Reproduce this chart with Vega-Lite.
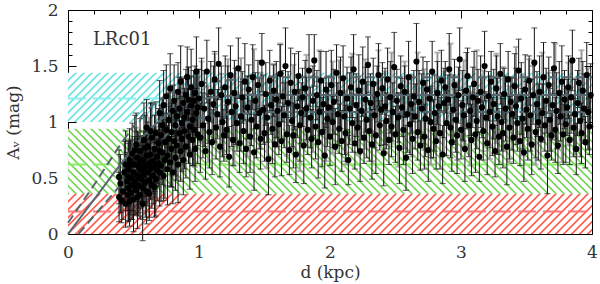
{
"$schema":"https://vega.github.io/schema/vega-lite/v6.json",
"width":524,"height":224,
"autosize":{"type":"none"},
"padding":{"left":68,"top":10,"right":8,"bottom":50},
"background":"white",
"config":{"view":{"stroke":null},"axis":{"labelFont":"DejaVu Serif","labelFontSize":17,"labelColor":"#333","titleFont":"DejaVu Serif","titleFontSize":17,"titleFontWeight":"normal","titleColor":"#333","tickColor":"black","tickWidth":1,"domainColor":"black","domainWidth":1,"grid":false,"zindex":1,"labelFlush":false,"labelOverlap":false}},
"datasets":{
"pts":[
{"d":0.39,"a":0.51,"e":0.24},{"d":0.39,"a":0.33,"e":0.22},{"d":0.40,"a":0.45,"e":0.26},{"d":0.41,"a":0.30,"e":0.2},{"d":0.42,"a":0.38,"e":0.25},{"d":0.43,"a":0.55,"e":0.28},{"d":0.44,"a":0.27,"e":0.21},{"d":0.45,"a":0.47,"e":0.26},{"d":0.44,"a":0.62,"e":0.3},{"d":0.46,"a":0.35,"e":0.23},
{"d":0.46,"a":0.58,"e":0.25},{"d":0.46,"a":0.41,"e":0.3},{"d":0.47,"a":0.29,"e":0.22},{"d":0.47,"a":0.66,"e":0.28},{"d":0.48,"a":0.50,"e":0.33},{"d":0.48,"a":0.37,"e":0.24},{"d":0.49,"a":0.72,"e":0.27},{"d":0.49,"a":0.44,"e":0.31},{"d":0.50,"a":0.55,"e":0.21},{"d":0.50,"a":0.31,"e":0.29},
{"d":0.51,"a":0.62,"e":0.25},{"d":0.51,"a":0.47,"e":0.3},{"d":0.52,"a":0.39,"e":0.22},{"d":0.52,"a":0.80,"e":0.28},{"d":0.53,"a":0.52,"e":0.33},{"d":0.53,"a":0.68,"e":0.24},{"d":0.54,"a":0.43,"e":0.27},{"d":0.54,"a":0.60,"e":0.31},{"d":0.55,"a":0.35,"e":0.21},{"d":0.55,"a":0.74,"e":0.29},
{"d":0.56,"a":0.49,"e":0.25},{"d":0.56,"a":0.57,"e":0.3},{"d":0.57,"a":0.66,"e":0.22},{"d":0.57,"a":0.41,"e":0.28},{"d":0.58,"a":0.84,"e":0.33},{"d":0.58,"a":0.53,"e":0.24},{"d":0.59,"a":0.61,"e":0.27},{"d":0.59,"a":0.46,"e":0.31},{"d":0.60,"a":0.70,"e":0.21},{"d":0.60,"a":0.38,"e":0.29},
{"d":0.60,"a":0.95,"e":0.25},{"d":0.61,"a":0.55,"e":0.3},{"d":0.61,"a":0.78,"e":0.22},{"d":0.62,"a":0.63,"e":0.28},{"d":0.62,"a":0.48,"e":0.33},{"d":0.63,"a":0.71,"e":0.24},{"d":0.63,"a":0.58,"e":0.27},{"d":0.64,"a":0.86,"e":0.31},{"d":0.64,"a":0.44,"e":0.21},{"d":0.65,"a":0.65,"e":0.29},
{"d":0.65,"a":0.52,"e":0.25},{"d":0.66,"a":0.76,"e":0.3},{"d":0.66,"a":0.60,"e":0.22},{"d":0.67,"a":0.90,"e":0.28},{"d":0.67,"a":0.49,"e":0.33},{"d":0.68,"a":0.69,"e":0.24},{"d":0.68,"a":0.57,"e":0.27},{"d":0.69,"a":0.81,"e":0.31},{"d":0.69,"a":0.63,"e":0.21},{"d":0.70,"a":1.08,"e":0.29},
{"d":0.70,"a":0.74,"e":0.25},{"d":0.70,"a":0.55,"e":0.3},{"d":0.48,"a":0.62,"e":0.22},{"d":0.53,"a":0.33,"e":0.28},{"d":0.57,"a":0.27,"e":0.33},{"d":0.62,"a":0.36,"e":0.24},{"d":0.66,"a":0.42,"e":0.27},{"d":0.51,"a":0.75,"e":0.31},{"d":0.55,"a":0.64,"e":0.21},{"d":0.59,"a":0.77,"e":0.29},
{"d":0.63,"a":0.92,"e":0.25},{"d":0.46,"a":0.51,"e":0.3},{"d":0.50,"a":0.43,"e":0.22},{"d":0.54,"a":0.51,"e":0.28},{"d":0.58,"a":0.59,"e":0.33},
{"d":0.71,"a":0.88,"e":0.27},{"d":0.71,"a":0.61,"e":0.32},{"d":0.72,"a":0.97,"e":0.24},{"d":0.72,"a":0.73,"e":0.29},{"d":0.73,"a":0.52,"e":0.22},{"d":0.73,"a":1.15,"e":0.31},{"d":0.74,"a":0.82,"e":0.26},{"d":0.74,"a":0.66,"e":0.34},{"d":0.75,"a":0.93,"e":0.23},{"d":0.75,"a":1.23,"e":0.28},
{"d":0.76,"a":0.70,"e":0.27},{"d":0.76,"a":0.58,"e":0.32},{"d":0.77,"a":1.02,"e":0.24},{"d":0.77,"a":0.85,"e":0.29},{"d":0.78,"a":0.64,"e":0.22},{"d":0.78,"a":1.30,"e":0.31},{"d":0.79,"a":0.91,"e":0.26},{"d":0.79,"a":0.76,"e":0.34},{"d":0.80,"a":1.10,"e":0.23},{"d":0.80,"a":0.55,"e":0.28},
{"d":0.81,"a":0.83,"e":0.27},{"d":0.81,"a":1.19,"e":0.32},{"d":0.82,"a":0.97,"e":0.24},{"d":0.82,"a":0.68,"e":0.29},{"d":0.83,"a":1.05,"e":0.22},{"d":0.83,"a":0.79,"e":0.31},{"d":0.84,"a":1.27,"e":0.26},{"d":0.84,"a":0.62,"e":0.34},{"d":0.85,"a":0.90,"e":0.23},{"d":0.85,"a":1.12,"e":0.28},
{"d":0.86,"a":0.74,"e":0.27},{"d":0.86,"a":1.36,"e":0.32},{"d":0.87,"a":0.99,"e":0.24},{"d":0.87,"a":0.85,"e":0.29},{"d":0.88,"a":1.17,"e":0.22},{"d":0.88,"a":0.66,"e":0.31},{"d":0.89,"a":1.04,"e":0.26},{"d":0.89,"a":0.92,"e":0.34},{"d":0.90,"a":1.24,"e":0.23},{"d":0.90,"a":0.78,"e":0.28},
{"d":0.91,"a":1.40,"e":0.27},{"d":0.91,"a":1.09,"e":0.32},{"d":0.92,"a":0.87,"e":0.24},{"d":0.92,"a":1.20,"e":0.29},{"d":0.93,"a":0.96,"e":0.22},{"d":0.93,"a":0.71,"e":0.31},{"d":0.94,"a":1.15,"e":0.26},{"d":0.94,"a":1.31,"e":0.34},{"d":0.95,"a":0.84,"e":0.23},{"d":0.95,"a":1.02,"e":0.28},
{"d":0.96,"a":1.19,"e":0.27},{"d":0.96,"a":0.93,"e":0.32},{"d":0.97,"a":1.26,"e":0.24},{"d":0.97,"a":0.76,"e":0.29},{"d":0.98,"a":1.08,"e":0.22},{"d":0.98,"a":1.45,"e":0.31},{"d":0.99,"a":0.89,"e":0.26},{"d":0.99,"a":1.13,"e":0.34},
{"d":1.00,"a":1.21,"e":0.26},{"d":1.01,"a":0.86,"e":0.31},{"d":1.02,"a":1.34,"e":0.23},{"d":1.03,"a":0.97,"e":0.29},{"d":1.04,"a":1.12,"e":0.34},{"d":1.05,"a":0.74,"e":0.25},{"d":1.06,"a":1.45,"e":0.28},{"d":1.07,"a":1.03,"e":0.22},{"d":1.08,"a":0.91,"e":0.32},{"d":1.09,"a":1.27,"e":0.27},
{"d":1.10,"a":0.82,"e":0.29},{"d":1.11,"a":1.16,"e":0.34},{"d":1.12,"a":1.38,"e":0.25},{"d":1.13,"a":0.95,"e":0.28},{"d":1.14,"a":1.07,"e":0.22},{"d":1.15,"a":1.52,"e":0.32},{"d":1.16,"a":0.78,"e":0.27},{"d":1.17,"a":1.24,"e":0.26},{"d":1.18,"a":1.00,"e":0.31},{"d":1.19,"a":0.88,"e":0.23},
{"d":1.20,"a":1.31,"e":0.28},{"d":1.21,"a":0.93,"e":0.22},{"d":1.22,"a":1.18,"e":0.32},{"d":1.23,"a":0.69,"e":0.27},{"d":1.24,"a":1.42,"e":0.26},{"d":1.25,"a":1.09,"e":0.31},{"d":1.26,"a":0.84,"e":0.23},{"d":1.27,"a":1.26,"e":0.29},{"d":1.28,"a":1.14,"e":0.34},{"d":1.29,"a":0.99,"e":0.25},
{"d":1.30,"a":1.48,"e":0.27},{"d":1.31,"a":0.81,"e":0.26},{"d":1.32,"a":1.05,"e":0.31},{"d":1.33,"a":1.22,"e":0.23},{"d":1.34,"a":0.92,"e":0.29},{"d":1.35,"a":1.36,"e":0.34},{"d":1.36,"a":0.76,"e":0.25},{"d":1.37,"a":1.13,"e":0.28},{"d":1.38,"a":1.29,"e":0.22},{"d":1.39,"a":0.87,"e":0.32},
{"d":1.40,"a":1.02,"e":0.23},{"d":1.41,"a":1.40,"e":0.29},{"d":1.42,"a":0.73,"e":0.34},{"d":1.43,"a":1.19,"e":0.25},{"d":1.44,"a":0.96,"e":0.28},{"d":1.45,"a":1.33,"e":0.22},{"d":1.46,"a":1.08,"e":0.32},{"d":1.47,"a":0.85,"e":0.27},{"d":1.48,"a":1.53,"e":0.26},{"d":1.49,"a":1.11,"e":0.31},
{"d":1.50,"a":0.90,"e":0.25},{"d":1.51,"a":1.25,"e":0.28},{"d":1.52,"a":1.04,"e":0.22},{"d":1.53,"a":0.67,"e":0.32},{"d":1.54,"a":1.37,"e":0.27},{"d":1.55,"a":1.15,"e":0.26},{"d":1.56,"a":0.94,"e":0.31},{"d":1.57,"a":1.28,"e":0.23},{"d":1.58,"a":0.80,"e":0.29},{"d":1.59,"a":1.20,"e":0.34},
{"d":1.60,"a":1.10,"e":0.32},{"d":1.61,"a":0.98,"e":0.27},{"d":1.62,"a":1.43,"e":0.26},{"d":1.63,"a":0.83,"e":0.31},{"d":1.64,"a":1.23,"e":0.23},{"d":1.65,"a":1.06,"e":0.29},{"d":1.66,"a":1.50,"e":0.34},{"d":1.67,"a":0.89,"e":0.25},{"d":1.68,"a":1.17,"e":0.28},{"d":1.69,"a":0.75,"e":0.22},
{"d":1.70,"a":1.35,"e":0.31},{"d":1.71,"a":1.01,"e":0.23},{"d":1.72,"a":0.88,"e":0.29},{"d":1.73,"a":1.27,"e":0.34},{"d":1.74,"a":0.71,"e":0.25},{"d":1.75,"a":1.14,"e":0.28},{"d":1.76,"a":1.41,"e":0.22},{"d":1.77,"a":0.97,"e":0.32},{"d":1.78,"a":1.08,"e":0.27},{"d":1.79,"a":1.22,"e":0.26},
{"d":1.80,"a":0.79,"e":0.34},{"d":1.81,"a":1.30,"e":0.25},{"d":1.82,"a":1.12,"e":0.28},{"d":1.83,"a":0.93,"e":0.22},{"d":1.84,"a":1.46,"e":0.32},{"d":1.85,"a":1.04,"e":0.27},{"d":1.86,"a":0.85,"e":0.26},{"d":1.87,"a":1.19,"e":0.31},{"d":1.88,"a":1.55,"e":0.23},{"d":1.89,"a":0.96,"e":0.29},
{"d":1.90,"a":1.24,"e":0.22},{"d":1.91,"a":0.82,"e":0.32},{"d":1.92,"a":1.09,"e":0.27},{"d":1.93,"a":1.37,"e":0.26},{"d":1.94,"a":0.91,"e":0.31},{"d":1.95,"a":1.16,"e":0.23},{"d":1.96,"a":0.70,"e":0.29},{"d":1.97,"a":1.29,"e":0.34},{"d":1.98,"a":1.03,"e":0.25},{"d":1.99,"a":1.13,"e":0.28},
{"d":2.00,"a":0.87,"e":0.26},{"d":2.01,"a":1.33,"e":0.31},{"d":2.02,"a":1.00,"e":0.23},{"d":2.03,"a":1.18,"e":0.29},{"d":2.04,"a":0.78,"e":0.34},{"d":2.05,"a":1.44,"e":0.25},{"d":2.06,"a":1.07,"e":0.28},{"d":2.07,"a":0.94,"e":0.22},{"d":2.08,"a":1.26,"e":0.32},{"d":2.09,"a":0.83,"e":0.27},
{"d":2.10,"a":1.39,"e":0.29},{"d":2.11,"a":1.05,"e":0.34},{"d":2.12,"a":0.90,"e":0.25},{"d":2.13,"a":1.21,"e":0.28},{"d":2.14,"a":0.66,"e":0.22},{"d":2.15,"a":1.12,"e":0.32},{"d":2.16,"a":1.31,"e":0.27},{"d":2.17,"a":0.99,"e":0.26},{"d":2.18,"a":1.47,"e":0.31},{"d":2.19,"a":0.81,"e":0.23},
{"d":2.20,"a":1.15,"e":0.28},{"d":2.21,"a":0.95,"e":0.22},{"d":2.22,"a":1.28,"e":0.32},{"d":2.23,"a":0.74,"e":0.27},{"d":2.24,"a":1.10,"e":0.26},{"d":2.25,"a":1.36,"e":0.31},{"d":2.26,"a":0.86,"e":0.23},{"d":2.27,"a":1.20,"e":0.29},{"d":2.28,"a":1.02,"e":0.34},{"d":2.29,"a":1.51,"e":0.25},
{"d":2.30,"a":0.92,"e":0.27},{"d":2.31,"a":1.17,"e":0.26},{"d":2.32,"a":0.80,"e":0.31},{"d":2.33,"a":1.34,"e":0.23},{"d":2.34,"a":1.06,"e":0.29},{"d":2.35,"a":0.88,"e":0.34},{"d":2.36,"a":1.25,"e":0.25},{"d":2.37,"a":1.42,"e":0.28},{"d":2.38,"a":0.97,"e":0.22},{"d":2.39,"a":1.11,"e":0.32},
{"d":2.40,"a":1.30,"e":0.23},{"d":2.41,"a":0.72,"e":0.29},{"d":2.42,"a":1.14,"e":0.34},{"d":2.43,"a":1.01,"e":0.25},{"d":2.44,"a":1.38,"e":0.28},{"d":2.45,"a":0.84,"e":0.22},{"d":2.46,"a":1.22,"e":0.32},{"d":2.47,"a":0.96,"e":0.27},{"d":2.48,"a":1.09,"e":0.26},{"d":2.49,"a":1.49,"e":0.31},
{"d":2.50,"a":0.89,"e":0.25},{"d":2.51,"a":1.19,"e":0.28},{"d":2.52,"a":1.04,"e":0.22},{"d":2.53,"a":0.77,"e":0.32},{"d":2.54,"a":1.32,"e":0.27},{"d":2.55,"a":1.13,"e":0.26},{"d":2.56,"a":0.93,"e":0.31},{"d":2.57,"a":1.27,"e":0.23},{"d":2.58,"a":0.68,"e":0.29},{"d":2.59,"a":1.07,"e":0.34},
{"d":2.60,"a":1.40,"e":0.32},{"d":2.61,"a":0.98,"e":0.27},{"d":2.62,"a":1.16,"e":0.26},{"d":2.63,"a":0.85,"e":0.31},{"d":2.64,"a":1.23,"e":0.23},{"d":2.65,"a":1.05,"e":0.29},{"d":2.66,"a":1.54,"e":0.34},{"d":2.67,"a":0.91,"e":0.25},{"d":2.68,"a":1.18,"e":0.28},{"d":2.69,"a":0.79,"e":0.22},
{"d":2.70,"a":1.12,"e":0.31},{"d":2.71,"a":1.35,"e":0.23},{"d":2.72,"a":0.87,"e":0.29},{"d":2.73,"a":1.03,"e":0.34},{"d":2.74,"a":1.29,"e":0.25},{"d":2.75,"a":0.75,"e":0.28},{"d":2.76,"a":1.21,"e":0.22},{"d":2.77,"a":1.00,"e":0.32},{"d":2.78,"a":1.45,"e":0.27},{"d":2.79,"a":0.94,"e":0.26},
{"d":2.80,"a":1.08,"e":0.34},{"d":2.81,"a":0.83,"e":0.25},{"d":2.82,"a":1.26,"e":0.28},{"d":2.83,"a":1.14,"e":0.22},{"d":2.84,"a":0.90,"e":0.32},{"d":2.85,"a":1.37,"e":0.27},{"d":2.86,"a":0.71,"e":0.26},{"d":2.87,"a":1.17,"e":0.31},{"d":2.88,"a":1.31,"e":0.23},{"d":2.89,"a":0.99,"e":0.29},
{"d":2.90,"a":1.20,"e":0.22},{"d":2.91,"a":1.47,"e":0.32},{"d":2.92,"a":0.95,"e":0.27},{"d":2.93,"a":0.82,"e":0.26},{"d":2.94,"a":1.11,"e":0.31},{"d":2.95,"a":1.33,"e":0.23},{"d":2.96,"a":1.02,"e":0.29},{"d":2.97,"a":0.88,"e":0.34},{"d":2.98,"a":1.24,"e":0.25},{"d":2.99,"a":1.56,"e":0.28},
{"d":3.00,"a":0.93,"e":0.26},{"d":3.01,"a":1.15,"e":0.31},{"d":3.02,"a":1.06,"e":0.23},{"d":3.03,"a":0.76,"e":0.29},{"d":3.04,"a":1.28,"e":0.34},{"d":3.05,"a":1.41,"e":0.25},{"d":3.06,"a":0.97,"e":0.28},{"d":3.07,"a":1.10,"e":0.22},{"d":3.08,"a":0.84,"e":0.32},{"d":3.09,"a":1.22,"e":0.27},
{"d":3.10,"a":1.34,"e":0.29},{"d":3.11,"a":0.89,"e":0.34},{"d":3.12,"a":1.01,"e":0.25},{"d":3.13,"a":1.19,"e":0.28},{"d":3.14,"a":0.69,"e":0.22},{"d":3.15,"a":1.27,"e":0.32},{"d":3.16,"a":1.13,"e":0.27},{"d":3.17,"a":0.92,"e":0.26},{"d":3.18,"a":1.50,"e":0.31},{"d":3.19,"a":1.04,"e":0.23},
{"d":3.20,"a":0.81,"e":0.28},{"d":3.21,"a":1.23,"e":0.22},{"d":3.22,"a":1.09,"e":0.32},{"d":3.23,"a":1.36,"e":0.27},{"d":3.24,"a":0.96,"e":0.26},{"d":3.25,"a":1.16,"e":0.31},{"d":3.26,"a":0.74,"e":0.23},{"d":3.27,"a":1.30,"e":0.29},{"d":3.28,"a":1.05,"e":0.34},{"d":3.29,"a":0.87,"e":0.25},
{"d":3.30,"a":1.43,"e":0.27},{"d":3.31,"a":1.00,"e":0.26},{"d":3.32,"a":0.90,"e":0.31},{"d":3.33,"a":1.25,"e":0.23},{"d":3.34,"a":1.12,"e":0.29},{"d":3.35,"a":0.78,"e":0.34},{"d":3.36,"a":1.38,"e":0.25},{"d":3.37,"a":0.95,"e":0.28},{"d":3.38,"a":1.18,"e":0.22},{"d":3.39,"a":1.07,"e":0.32},
{"d":3.40,"a":0.86,"e":0.23},{"d":3.41,"a":1.32,"e":0.29},{"d":3.42,"a":1.14,"e":0.34},{"d":3.43,"a":0.99,"e":0.25},{"d":3.44,"a":1.46,"e":0.28},{"d":3.45,"a":0.83,"e":0.22},{"d":3.46,"a":1.21,"e":0.32},{"d":3.47,"a":1.03,"e":0.27},{"d":3.48,"a":0.73,"e":0.26},{"d":3.49,"a":1.29,"e":0.31},
{"d":3.50,"a":1.11,"e":0.25},{"d":3.51,"a":0.94,"e":0.28},{"d":3.52,"a":1.37,"e":0.22},{"d":3.53,"a":1.06,"e":0.32},{"d":3.54,"a":0.80,"e":0.27},{"d":3.55,"a":1.24,"e":0.26},{"d":3.56,"a":1.53,"e":0.31},{"d":3.57,"a":0.91,"e":0.23},{"d":3.58,"a":1.16,"e":0.29},{"d":3.59,"a":1.00,"e":0.34},
{"d":3.60,"a":1.27,"e":0.32},{"d":3.61,"a":0.85,"e":0.27},{"d":3.62,"a":1.08,"e":0.26},{"d":3.63,"a":1.40,"e":0.31},{"d":3.64,"a":0.97,"e":0.23},{"d":3.65,"a":1.19,"e":0.29},{"d":3.66,"a":0.70,"e":0.34},{"d":3.67,"a":1.33,"e":0.25},{"d":3.68,"a":1.02,"e":0.28},{"d":3.69,"a":0.88,"e":0.22},
{"d":3.70,"a":1.15,"e":0.31},{"d":3.71,"a":1.48,"e":0.23},{"d":3.72,"a":0.93,"e":0.29},{"d":3.73,"a":1.10,"e":0.34},{"d":3.74,"a":0.79,"e":0.25},{"d":3.75,"a":1.26,"e":0.28},{"d":3.76,"a":1.05,"e":0.22},{"d":3.77,"a":1.36,"e":0.32},{"d":3.78,"a":0.89,"e":0.27},{"d":3.79,"a":1.20,"e":0.26},
{"d":3.80,"a":0.98,"e":0.34},{"d":3.81,"a":1.13,"e":0.25},{"d":3.82,"a":1.31,"e":0.28},{"d":3.83,"a":0.84,"e":0.22},{"d":3.84,"a":1.22,"e":0.32},{"d":3.85,"a":1.55,"e":0.27},{"d":3.86,"a":0.95,"e":0.26},{"d":3.87,"a":1.07,"e":0.31},{"d":3.88,"a":0.76,"e":0.23},{"d":3.89,"a":1.17,"e":0.29},
{"d":3.90,"a":1.35,"e":0.22},{"d":3.91,"a":1.01,"e":0.32},{"d":3.92,"a":0.90,"e":0.27},{"d":3.93,"a":1.28,"e":0.26},{"d":3.94,"a":1.12,"e":0.31},{"d":3.95,"a":0.82,"e":0.23},{"d":3.96,"a":1.42,"e":0.29},{"d":3.97,"a":1.09,"e":0.34},{"d":3.98,"a":0.96,"e":0.25},{"d":3.99,"a":1.24,"e":0.28}
],
"gray":[
{"d":0.47,"a":0.55,"e":0.30},{"d":0.52,"a":0.62,"e":0.33},{"d":0.57,"a":0.50,"e":0.31},{"d":0.62,"a":0.70,"e":0.34},{"d":0.67,"a":0.64,"e":0.32},{"d":0.72,"a":0.85,"e":0.36},{"d":0.77,"a":0.95,"e":0.33},{"d":0.82,"a":0.90,"e":0.38},{"d":0.87,"a":1.05,"e":0.35},{"d":0.92,"a":1.12,"e":0.37},
{"d":0.97,"a":1.00,"e":0.40},{"d":1.02,"a":1.18,"e":0.36},{"d":1.07,"a":0.98,"e":0.34},{"d":1.12,"a":1.22,"e":0.39},{"d":1.17,"a":1.08,"e":0.35},{"d":1.22,"a":1.15,"e":0.41},{"d":1.27,"a":0.94,"e":0.33},{"d":1.32,"a":1.20,"e":0.37},{"d":1.37,"a":1.05,"e":0.36},{"d":1.42,"a":1.25,"e":0.40},
{"d":1.47,"a":1.10,"e":0.34},{"d":1.52,"a":0.97,"e":0.38},{"d":1.57,"a":1.17,"e":0.35},{"d":1.62,"a":1.28,"e":0.42},{"d":1.67,"a":1.03,"e":0.33},{"d":1.72,"a":1.14,"e":0.37},{"d":1.77,"a":0.92,"e":0.36},{"d":1.82,"a":1.21,"e":0.39},{"d":1.87,"a":1.07,"e":0.34},{"d":1.92,"a":1.26,"e":0.38},
{"d":1.97,"a":1.00,"e":0.35},{"d":2.02,"a":1.13,"e":0.41},{"d":2.07,"a":1.19,"e":0.36},{"d":2.12,"a":0.95,"e":0.33},{"d":2.17,"a":1.23,"e":0.38},{"d":2.22,"a":1.06,"e":0.35},{"d":2.27,"a":1.16,"e":0.40},{"d":2.32,"a":0.99,"e":0.34},{"d":2.37,"a":1.27,"e":0.37},{"d":2.42,"a":1.09,"e":0.36},
{"d":2.47,"a":1.20,"e":0.42},{"d":2.52,"a":0.93,"e":0.33},{"d":2.57,"a":1.15,"e":0.39},{"d":2.62,"a":1.04,"e":0.35},{"d":2.67,"a":1.24,"e":0.38},{"d":2.72,"a":1.11,"e":0.36},{"d":2.77,"a":0.96,"e":0.34},{"d":2.82,"a":1.22,"e":0.40},{"d":2.87,"a":1.08,"e":0.37},{"d":2.92,"a":1.29,"e":0.41},
{"d":2.97,"a":1.01,"e":0.35},{"d":3.02,"a":1.17,"e":0.38},{"d":3.07,"a":0.94,"e":0.33},{"d":3.12,"a":1.25,"e":0.39},{"d":3.17,"a":1.10,"e":0.36},{"d":3.22,"a":1.02,"e":0.35},{"d":3.27,"a":1.21,"e":0.40},{"d":3.32,"a":1.12,"e":0.37},{"d":3.37,"a":0.98,"e":0.34},{"d":3.42,"a":1.26,"e":0.41},
{"d":3.47,"a":1.06,"e":0.36},{"d":3.52,"a":1.18,"e":0.38},{"d":3.57,"a":0.95,"e":0.33},{"d":3.62,"a":1.23,"e":0.39},{"d":3.67,"a":1.09,"e":0.35},{"d":3.72,"a":1.28,"e":0.42},{"d":3.77,"a":1.00,"e":0.36},{"d":3.82,"a":1.16,"e":0.37},{"d":3.87,"a":1.05,"e":0.34},{"d":3.92,"a":1.24,"e":0.40},
{"d":3.97,"a":1.12,"e":0.36}
],
"curves":[
{"d":0,"a":0,"c":"mid"},{"d":0.2,"a":0.31,"c":"mid"},{"d":0.4,"a":0.62,"c":"mid"},{"d":0.55,"a":0.84,"c":"mid"},{"d":0.65,"a":0.96,"c":"mid"},{"d":0.75,"a":1.06,"c":"mid"},{"d":0.85,"a":1.13,"c":"mid"},{"d":0.95,"a":1.18,"c":"mid"},{"d":1.05,"a":1.21,"c":"mid"},{"d":1.2,"a":1.23,"c":"mid"},{"d":1.4,"a":1.24,"c":"mid"},{"d":4,"a":1.24,"c":"mid"},
{"d":0,"a":0.10,"c":"hi"},{"d":0.2,"a":0.44,"c":"hi"},{"d":0.39,"a":0.78,"c":"hi"},{"d":0.5,"a":0.96,"c":"hi"},{"d":0.6,"a":1.10,"c":"hi"},{"d":0.7,"a":1.20,"c":"hi"},{"d":0.8,"a":1.27,"c":"hi"},{"d":0.9,"a":1.31,"c":"hi"},{"d":1.0,"a":1.34,"c":"hi"},{"d":1.2,"a":1.37,"c":"hi"},{"d":1.4,"a":1.39,"c":"hi"},{"d":1.7,"a":1.40,"c":"hi"},{"d":4,"a":1.40,"c":"hi"},
{"d":0.08,"a":0,"c":"lo"},{"d":0.3,"a":0.30,"c":"lo"},{"d":0.5,"a":0.57,"c":"lo"},{"d":0.65,"a":0.77,"c":"lo"},{"d":0.79,"a":0.92,"c":"lo"},{"d":0.9,"a":0.99,"c":"lo"},{"d":1.0,"a":1.03,"c":"lo"},{"d":1.16,"a":1.06,"c":"lo"},{"d":1.4,"a":1.08,"c":"lo"},{"d":1.7,"a":1.09,"c":"lo"},{"d":4,"a":1.09,"c":"lo"}
]
},
"layer":[
{"data":{"values":[{"d":0,"d2":4,"a":0,"a2":0.36}]},
 "mark":{"type":"rect","fill":{"gradient":"linear","x1":0,"y1":0,"x2":1.2142,"y2":0.0934,"stops":[
{"offset":0.0,"color":"#f32"},{"offset":0.003,"color":"#fff"},{"offset":0.0095,"color":"#fff"},{"offset":0.0125,"color":"#f32"},{"offset":0.0155,"color":"#fff"},{"offset":0.022,"color":"#fff"},{"offset":0.025,"color":"#f32"},{"offset":0.028,"color":"#fff"},{"offset":0.0345,"color":"#fff"},{"offset":0.0375,"color":"#f32"},{"offset":0.0405,"color":"#fff"},{"offset":0.047,"color":"#fff"},{"offset":0.05,"color":"#f32"},{"offset":0.053,"color":"#fff"},{"offset":0.0595,"color":"#fff"},{"offset":0.0625,"color":"#f32"},{"offset":0.0655,"color":"#fff"},{"offset":0.072,"color":"#fff"},{"offset":0.075,"color":"#f32"},{"offset":0.078,"color":"#fff"},{"offset":0.0845,"color":"#fff"},{"offset":0.0875,"color":"#f32"},{"offset":0.0905,"color":"#fff"},{"offset":0.097,"color":"#fff"},
{"offset":0.1,"color":"#f32"},{"offset":0.103,"color":"#fff"},{"offset":0.1095,"color":"#fff"},{"offset":0.1125,"color":"#f32"},{"offset":0.1155,"color":"#fff"},{"offset":0.122,"color":"#fff"},{"offset":0.125,"color":"#f32"},{"offset":0.128,"color":"#fff"},{"offset":0.1345,"color":"#fff"},{"offset":0.1375,"color":"#f32"},{"offset":0.1405,"color":"#fff"},{"offset":0.147,"color":"#fff"},{"offset":0.15,"color":"#f32"},{"offset":0.153,"color":"#fff"},{"offset":0.1595,"color":"#fff"},{"offset":0.1625,"color":"#f32"},{"offset":0.1655,"color":"#fff"},{"offset":0.172,"color":"#fff"},{"offset":0.175,"color":"#f32"},{"offset":0.178,"color":"#fff"},{"offset":0.1845,"color":"#fff"},{"offset":0.1875,"color":"#f32"},{"offset":0.1905,"color":"#fff"},{"offset":0.197,"color":"#fff"},
{"offset":0.2,"color":"#f32"},{"offset":0.203,"color":"#fff"},{"offset":0.2095,"color":"#fff"},{"offset":0.2125,"color":"#f32"},{"offset":0.2155,"color":"#fff"},{"offset":0.222,"color":"#fff"},{"offset":0.225,"color":"#f32"},{"offset":0.228,"color":"#fff"},{"offset":0.2345,"color":"#fff"},{"offset":0.2375,"color":"#f32"},{"offset":0.2405,"color":"#fff"},{"offset":0.247,"color":"#fff"},{"offset":0.25,"color":"#f32"},{"offset":0.253,"color":"#fff"},{"offset":0.2595,"color":"#fff"},{"offset":0.2625,"color":"#f32"},{"offset":0.2655,"color":"#fff"},{"offset":0.272,"color":"#fff"},{"offset":0.275,"color":"#f32"},{"offset":0.278,"color":"#fff"},{"offset":0.2845,"color":"#fff"},{"offset":0.2875,"color":"#f32"},{"offset":0.2905,"color":"#fff"},{"offset":0.297,"color":"#fff"},
{"offset":0.3,"color":"#f32"},{"offset":0.303,"color":"#fff"},{"offset":0.3095,"color":"#fff"},{"offset":0.3125,"color":"#f32"},{"offset":0.3155,"color":"#fff"},{"offset":0.322,"color":"#fff"},{"offset":0.325,"color":"#f32"},{"offset":0.328,"color":"#fff"},{"offset":0.3345,"color":"#fff"},{"offset":0.3375,"color":"#f32"},{"offset":0.3405,"color":"#fff"},{"offset":0.347,"color":"#fff"},{"offset":0.35,"color":"#f32"},{"offset":0.353,"color":"#fff"},{"offset":0.3595,"color":"#fff"},{"offset":0.3625,"color":"#f32"},{"offset":0.3655,"color":"#fff"},{"offset":0.372,"color":"#fff"},{"offset":0.375,"color":"#f32"},{"offset":0.378,"color":"#fff"},{"offset":0.3845,"color":"#fff"},{"offset":0.3875,"color":"#f32"},{"offset":0.3905,"color":"#fff"},{"offset":0.397,"color":"#fff"},
{"offset":0.4,"color":"#f32"},{"offset":0.403,"color":"#fff"},{"offset":0.4095,"color":"#fff"},{"offset":0.4125,"color":"#f32"},{"offset":0.4155,"color":"#fff"},{"offset":0.422,"color":"#fff"},{"offset":0.425,"color":"#f32"},{"offset":0.428,"color":"#fff"},{"offset":0.4345,"color":"#fff"},{"offset":0.4375,"color":"#f32"},{"offset":0.4405,"color":"#fff"},{"offset":0.447,"color":"#fff"},{"offset":0.45,"color":"#f32"},{"offset":0.453,"color":"#fff"},{"offset":0.4595,"color":"#fff"},{"offset":0.4625,"color":"#f32"},{"offset":0.4655,"color":"#fff"},{"offset":0.472,"color":"#fff"},{"offset":0.475,"color":"#f32"},{"offset":0.478,"color":"#fff"},{"offset":0.4845,"color":"#fff"},{"offset":0.4875,"color":"#f32"},{"offset":0.4905,"color":"#fff"},{"offset":0.497,"color":"#fff"},
{"offset":0.5,"color":"#f32"},{"offset":0.503,"color":"#fff"},{"offset":0.5095,"color":"#fff"},{"offset":0.5125,"color":"#f32"},{"offset":0.5155,"color":"#fff"},{"offset":0.522,"color":"#fff"},{"offset":0.525,"color":"#f32"},{"offset":0.528,"color":"#fff"},{"offset":0.5345,"color":"#fff"},{"offset":0.5375,"color":"#f32"},{"offset":0.5405,"color":"#fff"},{"offset":0.547,"color":"#fff"},{"offset":0.55,"color":"#f32"},{"offset":0.553,"color":"#fff"},{"offset":0.5595,"color":"#fff"},{"offset":0.5625,"color":"#f32"},{"offset":0.5655,"color":"#fff"},{"offset":0.572,"color":"#fff"},{"offset":0.575,"color":"#f32"},{"offset":0.578,"color":"#fff"},{"offset":0.5845,"color":"#fff"},{"offset":0.5875,"color":"#f32"},{"offset":0.5905,"color":"#fff"},{"offset":0.597,"color":"#fff"},
{"offset":0.6,"color":"#f32"},{"offset":0.603,"color":"#fff"},{"offset":0.6095,"color":"#fff"},{"offset":0.6125,"color":"#f32"},{"offset":0.6155,"color":"#fff"},{"offset":0.622,"color":"#fff"},{"offset":0.625,"color":"#f32"},{"offset":0.628,"color":"#fff"},{"offset":0.6345,"color":"#fff"},{"offset":0.6375,"color":"#f32"},{"offset":0.6405,"color":"#fff"},{"offset":0.647,"color":"#fff"},{"offset":0.65,"color":"#f32"},{"offset":0.653,"color":"#fff"},{"offset":0.6595,"color":"#fff"},{"offset":0.6625,"color":"#f32"},{"offset":0.6655,"color":"#fff"},{"offset":0.672,"color":"#fff"},{"offset":0.675,"color":"#f32"},{"offset":0.678,"color":"#fff"},{"offset":0.6845,"color":"#fff"},{"offset":0.6875,"color":"#f32"},{"offset":0.6905,"color":"#fff"},{"offset":0.697,"color":"#fff"},
{"offset":0.7,"color":"#f32"},{"offset":0.703,"color":"#fff"},{"offset":0.7095,"color":"#fff"},{"offset":0.7125,"color":"#f32"},{"offset":0.7155,"color":"#fff"},{"offset":0.722,"color":"#fff"},{"offset":0.725,"color":"#f32"},{"offset":0.728,"color":"#fff"},{"offset":0.7345,"color":"#fff"},{"offset":0.7375,"color":"#f32"},{"offset":0.7405,"color":"#fff"},{"offset":0.747,"color":"#fff"},{"offset":0.75,"color":"#f32"},{"offset":0.753,"color":"#fff"},{"offset":0.7595,"color":"#fff"},{"offset":0.7625,"color":"#f32"},{"offset":0.7655,"color":"#fff"},{"offset":0.772,"color":"#fff"},{"offset":0.775,"color":"#f32"},{"offset":0.778,"color":"#fff"},{"offset":0.7845,"color":"#fff"},{"offset":0.7875,"color":"#f32"},{"offset":0.7905,"color":"#fff"},{"offset":0.797,"color":"#fff"},
{"offset":0.8,"color":"#f32"},{"offset":0.803,"color":"#fff"},{"offset":0.8095,"color":"#fff"},{"offset":0.8125,"color":"#f32"},{"offset":0.8155,"color":"#fff"},{"offset":0.822,"color":"#fff"},{"offset":0.825,"color":"#f32"},{"offset":0.828,"color":"#fff"},{"offset":0.8345,"color":"#fff"},{"offset":0.8375,"color":"#f32"},{"offset":0.8405,"color":"#fff"},{"offset":0.847,"color":"#fff"},{"offset":0.85,"color":"#f32"},{"offset":0.853,"color":"#fff"},{"offset":0.8595,"color":"#fff"},{"offset":0.8625,"color":"#f32"},{"offset":0.8655,"color":"#fff"},{"offset":0.872,"color":"#fff"},{"offset":0.875,"color":"#f32"},{"offset":0.878,"color":"#fff"},{"offset":0.8845,"color":"#fff"},{"offset":0.8875,"color":"#f32"},{"offset":0.8905,"color":"#fff"},{"offset":0.897,"color":"#fff"},
{"offset":0.9,"color":"#f32"},{"offset":0.903,"color":"#fff"},{"offset":0.9095,"color":"#fff"},{"offset":0.9125,"color":"#f32"},{"offset":0.9155,"color":"#fff"},{"offset":0.922,"color":"#fff"},{"offset":0.925,"color":"#f32"},{"offset":0.928,"color":"#fff"},{"offset":1,"color":"#fff"}]}},
 "encoding":{
  "x":{"field":"d","type":"quantitative","scale":{"domain":[0,4],"nice":false},"axis":{"orient":"bottom","values":[0,1,2,3,4],"tickSize":-8,"labelPadding":18,"title":"d (kpc)","titlePadding":4,"domain":true}},
  "x2":{"field":"d2"},
  "y":{"field":"a","type":"quantitative","scale":{"domain":[0,2],"nice":false},"axis":{"orient":"left","values":[0,0.5,1,1.5,2],"format":"~g","tickSize":-8,"labelPadding":18,"title":"Aᵥ (mag)","titlePadding":8,"domain":true}},
  "y2":{"field":"a2"}}},
{"data":{"values":[{"d":0,"d2":4,"a":0.36,"a2":0.94}]},
 "mark":{"type":"rect","fill":{"gradient":"linear","x1":0,"y1":1,"x2":1.2029,"y2":0.8509,"stops":[
{"offset":0.0,"color":"#5c3"},{"offset":0.003,"color":"#fff"},{"offset":0.0095,"color":"#fff"},{"offset":0.0125,"color":"#5c3"},{"offset":0.0155,"color":"#fff"},{"offset":0.022,"color":"#fff"},{"offset":0.025,"color":"#5c3"},{"offset":0.028,"color":"#fff"},{"offset":0.0345,"color":"#fff"},{"offset":0.0375,"color":"#5c3"},{"offset":0.0405,"color":"#fff"},{"offset":0.047,"color":"#fff"},{"offset":0.05,"color":"#5c3"},{"offset":0.053,"color":"#fff"},{"offset":0.0595,"color":"#fff"},{"offset":0.0625,"color":"#5c3"},{"offset":0.0655,"color":"#fff"},{"offset":0.072,"color":"#fff"},{"offset":0.075,"color":"#5c3"},{"offset":0.078,"color":"#fff"},{"offset":0.0845,"color":"#fff"},{"offset":0.0875,"color":"#5c3"},{"offset":0.0905,"color":"#fff"},{"offset":0.097,"color":"#fff"},
{"offset":0.1,"color":"#5c3"},{"offset":0.103,"color":"#fff"},{"offset":0.1095,"color":"#fff"},{"offset":0.1125,"color":"#5c3"},{"offset":0.1155,"color":"#fff"},{"offset":0.122,"color":"#fff"},{"offset":0.125,"color":"#5c3"},{"offset":0.128,"color":"#fff"},{"offset":0.1345,"color":"#fff"},{"offset":0.1375,"color":"#5c3"},{"offset":0.1405,"color":"#fff"},{"offset":0.147,"color":"#fff"},{"offset":0.15,"color":"#5c3"},{"offset":0.153,"color":"#fff"},{"offset":0.1595,"color":"#fff"},{"offset":0.1625,"color":"#5c3"},{"offset":0.1655,"color":"#fff"},{"offset":0.172,"color":"#fff"},{"offset":0.175,"color":"#5c3"},{"offset":0.178,"color":"#fff"},{"offset":0.1845,"color":"#fff"},{"offset":0.1875,"color":"#5c3"},{"offset":0.1905,"color":"#fff"},{"offset":0.197,"color":"#fff"},
{"offset":0.2,"color":"#5c3"},{"offset":0.203,"color":"#fff"},{"offset":0.2095,"color":"#fff"},{"offset":0.2125,"color":"#5c3"},{"offset":0.2155,"color":"#fff"},{"offset":0.222,"color":"#fff"},{"offset":0.225,"color":"#5c3"},{"offset":0.228,"color":"#fff"},{"offset":0.2345,"color":"#fff"},{"offset":0.2375,"color":"#5c3"},{"offset":0.2405,"color":"#fff"},{"offset":0.247,"color":"#fff"},{"offset":0.25,"color":"#5c3"},{"offset":0.253,"color":"#fff"},{"offset":0.2595,"color":"#fff"},{"offset":0.2625,"color":"#5c3"},{"offset":0.2655,"color":"#fff"},{"offset":0.272,"color":"#fff"},{"offset":0.275,"color":"#5c3"},{"offset":0.278,"color":"#fff"},{"offset":0.2845,"color":"#fff"},{"offset":0.2875,"color":"#5c3"},{"offset":0.2905,"color":"#fff"},{"offset":0.297,"color":"#fff"},
{"offset":0.3,"color":"#5c3"},{"offset":0.303,"color":"#fff"},{"offset":0.3095,"color":"#fff"},{"offset":0.3125,"color":"#5c3"},{"offset":0.3155,"color":"#fff"},{"offset":0.322,"color":"#fff"},{"offset":0.325,"color":"#5c3"},{"offset":0.328,"color":"#fff"},{"offset":0.3345,"color":"#fff"},{"offset":0.3375,"color":"#5c3"},{"offset":0.3405,"color":"#fff"},{"offset":0.347,"color":"#fff"},{"offset":0.35,"color":"#5c3"},{"offset":0.353,"color":"#fff"},{"offset":0.3595,"color":"#fff"},{"offset":0.3625,"color":"#5c3"},{"offset":0.3655,"color":"#fff"},{"offset":0.372,"color":"#fff"},{"offset":0.375,"color":"#5c3"},{"offset":0.378,"color":"#fff"},{"offset":0.3845,"color":"#fff"},{"offset":0.3875,"color":"#5c3"},{"offset":0.3905,"color":"#fff"},{"offset":0.397,"color":"#fff"},
{"offset":0.4,"color":"#5c3"},{"offset":0.403,"color":"#fff"},{"offset":0.4095,"color":"#fff"},{"offset":0.4125,"color":"#5c3"},{"offset":0.4155,"color":"#fff"},{"offset":0.422,"color":"#fff"},{"offset":0.425,"color":"#5c3"},{"offset":0.428,"color":"#fff"},{"offset":0.4345,"color":"#fff"},{"offset":0.4375,"color":"#5c3"},{"offset":0.4405,"color":"#fff"},{"offset":0.447,"color":"#fff"},{"offset":0.45,"color":"#5c3"},{"offset":0.453,"color":"#fff"},{"offset":0.4595,"color":"#fff"},{"offset":0.4625,"color":"#5c3"},{"offset":0.4655,"color":"#fff"},{"offset":0.472,"color":"#fff"},{"offset":0.475,"color":"#5c3"},{"offset":0.478,"color":"#fff"},{"offset":0.4845,"color":"#fff"},{"offset":0.4875,"color":"#5c3"},{"offset":0.4905,"color":"#fff"},{"offset":0.497,"color":"#fff"},
{"offset":0.5,"color":"#5c3"},{"offset":0.503,"color":"#fff"},{"offset":0.5095,"color":"#fff"},{"offset":0.5125,"color":"#5c3"},{"offset":0.5155,"color":"#fff"},{"offset":0.522,"color":"#fff"},{"offset":0.525,"color":"#5c3"},{"offset":0.528,"color":"#fff"},{"offset":0.5345,"color":"#fff"},{"offset":0.5375,"color":"#5c3"},{"offset":0.5405,"color":"#fff"},{"offset":0.547,"color":"#fff"},{"offset":0.55,"color":"#5c3"},{"offset":0.553,"color":"#fff"},{"offset":0.5595,"color":"#fff"},{"offset":0.5625,"color":"#5c3"},{"offset":0.5655,"color":"#fff"},{"offset":0.572,"color":"#fff"},{"offset":0.575,"color":"#5c3"},{"offset":0.578,"color":"#fff"},{"offset":0.5845,"color":"#fff"},{"offset":0.5875,"color":"#5c3"},{"offset":0.5905,"color":"#fff"},{"offset":0.597,"color":"#fff"},
{"offset":0.6,"color":"#5c3"},{"offset":0.603,"color":"#fff"},{"offset":0.6095,"color":"#fff"},{"offset":0.6125,"color":"#5c3"},{"offset":0.6155,"color":"#fff"},{"offset":0.622,"color":"#fff"},{"offset":0.625,"color":"#5c3"},{"offset":0.628,"color":"#fff"},{"offset":0.6345,"color":"#fff"},{"offset":0.6375,"color":"#5c3"},{"offset":0.6405,"color":"#fff"},{"offset":0.647,"color":"#fff"},{"offset":0.65,"color":"#5c3"},{"offset":0.653,"color":"#fff"},{"offset":0.6595,"color":"#fff"},{"offset":0.6625,"color":"#5c3"},{"offset":0.6655,"color":"#fff"},{"offset":0.672,"color":"#fff"},{"offset":0.675,"color":"#5c3"},{"offset":0.678,"color":"#fff"},{"offset":0.6845,"color":"#fff"},{"offset":0.6875,"color":"#5c3"},{"offset":0.6905,"color":"#fff"},{"offset":0.697,"color":"#fff"},
{"offset":0.7,"color":"#5c3"},{"offset":0.703,"color":"#fff"},{"offset":0.7095,"color":"#fff"},{"offset":0.7125,"color":"#5c3"},{"offset":0.7155,"color":"#fff"},{"offset":0.722,"color":"#fff"},{"offset":0.725,"color":"#5c3"},{"offset":0.728,"color":"#fff"},{"offset":0.7345,"color":"#fff"},{"offset":0.7375,"color":"#5c3"},{"offset":0.7405,"color":"#fff"},{"offset":0.747,"color":"#fff"},{"offset":0.75,"color":"#5c3"},{"offset":0.753,"color":"#fff"},{"offset":0.7595,"color":"#fff"},{"offset":0.7625,"color":"#5c3"},{"offset":0.7655,"color":"#fff"},{"offset":0.772,"color":"#fff"},{"offset":0.775,"color":"#5c3"},{"offset":0.778,"color":"#fff"},{"offset":0.7845,"color":"#fff"},{"offset":0.7875,"color":"#5c3"},{"offset":0.7905,"color":"#fff"},{"offset":0.797,"color":"#fff"},
{"offset":0.8,"color":"#5c3"},{"offset":0.803,"color":"#fff"},{"offset":0.8095,"color":"#fff"},{"offset":0.8125,"color":"#5c3"},{"offset":0.8155,"color":"#fff"},{"offset":0.822,"color":"#fff"},{"offset":0.825,"color":"#5c3"},{"offset":0.828,"color":"#fff"},{"offset":0.8345,"color":"#fff"},{"offset":0.8375,"color":"#5c3"},{"offset":0.8405,"color":"#fff"},{"offset":0.847,"color":"#fff"},{"offset":0.85,"color":"#5c3"},{"offset":0.853,"color":"#fff"},{"offset":0.8595,"color":"#fff"},{"offset":0.8625,"color":"#5c3"},{"offset":0.8655,"color":"#fff"},{"offset":0.872,"color":"#fff"},{"offset":0.875,"color":"#5c3"},{"offset":0.878,"color":"#fff"},{"offset":0.8845,"color":"#fff"},{"offset":0.8875,"color":"#5c3"},{"offset":0.8905,"color":"#fff"},{"offset":0.897,"color":"#fff"},
{"offset":0.9,"color":"#5c3"},{"offset":0.903,"color":"#fff"},{"offset":0.9095,"color":"#fff"},{"offset":0.9125,"color":"#5c3"},{"offset":0.9155,"color":"#fff"},{"offset":0.922,"color":"#fff"},{"offset":0.925,"color":"#5c3"},{"offset":0.928,"color":"#fff"},{"offset":1,"color":"#fff"}]}},
 "encoding":{
  "x":{"field":"d","type":"quantitative","scale":{"domain":[0,4],"nice":false},"axis":{"orient":"bottom","values":[0.2,0.4,0.6,0.8,1.2,1.4,1.6,1.8,2.2,2.4,2.6,2.8,3.2,3.4,3.6,3.8],"tickSize":-4,"labels":false,"title":null,"domain":false}},
  "x2":{"field":"d2"},
  "y":{"field":"a","type":"quantitative","scale":{"domain":[0,2],"nice":false},"axis":{"orient":"left","values":[0.1,0.2,0.3,0.4,0.6,0.7,0.8,0.9,1.1,1.2,1.3,1.4,1.6,1.7,1.8,1.9],"tickSize":-4,"labels":false,"title":null,"domain":false}},
  "y2":{"field":"a2"}}},
{"data":{"values":[{"d":0,"d2":4,"a":1.0,"a2":1.44}]},
 "mark":{"type":"rect","fill":{"gradient":"linear","x1":0,"y1":0,"x2":1.2107,"y2":0.1139,"stops":[
{"offset":0.0,"color":"#4dd"},{"offset":0.003,"color":"#fff"},{"offset":0.0095,"color":"#fff"},{"offset":0.0125,"color":"#4dd"},{"offset":0.0155,"color":"#fff"},{"offset":0.022,"color":"#fff"},{"offset":0.025,"color":"#4dd"},{"offset":0.028,"color":"#fff"},{"offset":0.0345,"color":"#fff"},{"offset":0.0375,"color":"#4dd"},{"offset":0.0405,"color":"#fff"},{"offset":0.047,"color":"#fff"},{"offset":0.05,"color":"#4dd"},{"offset":0.053,"color":"#fff"},{"offset":0.0595,"color":"#fff"},{"offset":0.0625,"color":"#4dd"},{"offset":0.0655,"color":"#fff"},{"offset":0.072,"color":"#fff"},{"offset":0.075,"color":"#4dd"},{"offset":0.078,"color":"#fff"},{"offset":0.0845,"color":"#fff"},{"offset":0.0875,"color":"#4dd"},{"offset":0.0905,"color":"#fff"},{"offset":0.097,"color":"#fff"},
{"offset":0.1,"color":"#4dd"},{"offset":0.103,"color":"#fff"},{"offset":0.1095,"color":"#fff"},{"offset":0.1125,"color":"#4dd"},{"offset":0.1155,"color":"#fff"},{"offset":0.122,"color":"#fff"},{"offset":0.125,"color":"#4dd"},{"offset":0.128,"color":"#fff"},{"offset":0.1345,"color":"#fff"},{"offset":0.1375,"color":"#4dd"},{"offset":0.1405,"color":"#fff"},{"offset":0.147,"color":"#fff"},{"offset":0.15,"color":"#4dd"},{"offset":0.153,"color":"#fff"},{"offset":0.1595,"color":"#fff"},{"offset":0.1625,"color":"#4dd"},{"offset":0.1655,"color":"#fff"},{"offset":0.172,"color":"#fff"},{"offset":0.175,"color":"#4dd"},{"offset":0.178,"color":"#fff"},{"offset":0.1845,"color":"#fff"},{"offset":0.1875,"color":"#4dd"},{"offset":0.1905,"color":"#fff"},{"offset":0.197,"color":"#fff"},
{"offset":0.2,"color":"#4dd"},{"offset":0.203,"color":"#fff"},{"offset":0.2095,"color":"#fff"},{"offset":0.2125,"color":"#4dd"},{"offset":0.2155,"color":"#fff"},{"offset":0.222,"color":"#fff"},{"offset":0.225,"color":"#4dd"},{"offset":0.228,"color":"#fff"},{"offset":0.2345,"color":"#fff"},{"offset":0.2375,"color":"#4dd"},{"offset":0.2405,"color":"#fff"},{"offset":0.247,"color":"#fff"},{"offset":0.25,"color":"#4dd"},{"offset":0.253,"color":"#fff"},{"offset":0.2595,"color":"#fff"},{"offset":0.2625,"color":"#4dd"},{"offset":0.2655,"color":"#fff"},{"offset":0.272,"color":"#fff"},{"offset":0.275,"color":"#4dd"},{"offset":0.278,"color":"#fff"},{"offset":0.2845,"color":"#fff"},{"offset":0.2875,"color":"#4dd"},{"offset":0.2905,"color":"#fff"},{"offset":0.297,"color":"#fff"},
{"offset":0.3,"color":"#4dd"},{"offset":0.303,"color":"#fff"},{"offset":0.3095,"color":"#fff"},{"offset":0.3125,"color":"#4dd"},{"offset":0.3155,"color":"#fff"},{"offset":0.322,"color":"#fff"},{"offset":0.325,"color":"#4dd"},{"offset":0.328,"color":"#fff"},{"offset":0.3345,"color":"#fff"},{"offset":0.3375,"color":"#4dd"},{"offset":0.3405,"color":"#fff"},{"offset":0.347,"color":"#fff"},{"offset":0.35,"color":"#4dd"},{"offset":0.353,"color":"#fff"},{"offset":0.3595,"color":"#fff"},{"offset":0.3625,"color":"#4dd"},{"offset":0.3655,"color":"#fff"},{"offset":0.372,"color":"#fff"},{"offset":0.375,"color":"#4dd"},{"offset":0.378,"color":"#fff"},{"offset":0.3845,"color":"#fff"},{"offset":0.3875,"color":"#4dd"},{"offset":0.3905,"color":"#fff"},{"offset":0.397,"color":"#fff"},
{"offset":0.4,"color":"#4dd"},{"offset":0.403,"color":"#fff"},{"offset":0.4095,"color":"#fff"},{"offset":0.4125,"color":"#4dd"},{"offset":0.4155,"color":"#fff"},{"offset":0.422,"color":"#fff"},{"offset":0.425,"color":"#4dd"},{"offset":0.428,"color":"#fff"},{"offset":0.4345,"color":"#fff"},{"offset":0.4375,"color":"#4dd"},{"offset":0.4405,"color":"#fff"},{"offset":0.447,"color":"#fff"},{"offset":0.45,"color":"#4dd"},{"offset":0.453,"color":"#fff"},{"offset":0.4595,"color":"#fff"},{"offset":0.4625,"color":"#4dd"},{"offset":0.4655,"color":"#fff"},{"offset":0.472,"color":"#fff"},{"offset":0.475,"color":"#4dd"},{"offset":0.478,"color":"#fff"},{"offset":0.4845,"color":"#fff"},{"offset":0.4875,"color":"#4dd"},{"offset":0.4905,"color":"#fff"},{"offset":0.497,"color":"#fff"},
{"offset":0.5,"color":"#4dd"},{"offset":0.503,"color":"#fff"},{"offset":0.5095,"color":"#fff"},{"offset":0.5125,"color":"#4dd"},{"offset":0.5155,"color":"#fff"},{"offset":0.522,"color":"#fff"},{"offset":0.525,"color":"#4dd"},{"offset":0.528,"color":"#fff"},{"offset":0.5345,"color":"#fff"},{"offset":0.5375,"color":"#4dd"},{"offset":0.5405,"color":"#fff"},{"offset":0.547,"color":"#fff"},{"offset":0.55,"color":"#4dd"},{"offset":0.553,"color":"#fff"},{"offset":0.5595,"color":"#fff"},{"offset":0.5625,"color":"#4dd"},{"offset":0.5655,"color":"#fff"},{"offset":0.572,"color":"#fff"},{"offset":0.575,"color":"#4dd"},{"offset":0.578,"color":"#fff"},{"offset":0.5845,"color":"#fff"},{"offset":0.5875,"color":"#4dd"},{"offset":0.5905,"color":"#fff"},{"offset":0.597,"color":"#fff"},
{"offset":0.6,"color":"#4dd"},{"offset":0.603,"color":"#fff"},{"offset":0.6095,"color":"#fff"},{"offset":0.6125,"color":"#4dd"},{"offset":0.6155,"color":"#fff"},{"offset":0.622,"color":"#fff"},{"offset":0.625,"color":"#4dd"},{"offset":0.628,"color":"#fff"},{"offset":0.6345,"color":"#fff"},{"offset":0.6375,"color":"#4dd"},{"offset":0.6405,"color":"#fff"},{"offset":0.647,"color":"#fff"},{"offset":0.65,"color":"#4dd"},{"offset":0.653,"color":"#fff"},{"offset":0.6595,"color":"#fff"},{"offset":0.6625,"color":"#4dd"},{"offset":0.6655,"color":"#fff"},{"offset":0.672,"color":"#fff"},{"offset":0.675,"color":"#4dd"},{"offset":0.678,"color":"#fff"},{"offset":0.6845,"color":"#fff"},{"offset":0.6875,"color":"#4dd"},{"offset":0.6905,"color":"#fff"},{"offset":0.697,"color":"#fff"},
{"offset":0.7,"color":"#4dd"},{"offset":0.703,"color":"#fff"},{"offset":0.7095,"color":"#fff"},{"offset":0.7125,"color":"#4dd"},{"offset":0.7155,"color":"#fff"},{"offset":0.722,"color":"#fff"},{"offset":0.725,"color":"#4dd"},{"offset":0.728,"color":"#fff"},{"offset":0.7345,"color":"#fff"},{"offset":0.7375,"color":"#4dd"},{"offset":0.7405,"color":"#fff"},{"offset":0.747,"color":"#fff"},{"offset":0.75,"color":"#4dd"},{"offset":0.753,"color":"#fff"},{"offset":0.7595,"color":"#fff"},{"offset":0.7625,"color":"#4dd"},{"offset":0.7655,"color":"#fff"},{"offset":0.772,"color":"#fff"},{"offset":0.775,"color":"#4dd"},{"offset":0.778,"color":"#fff"},{"offset":0.7845,"color":"#fff"},{"offset":0.7875,"color":"#4dd"},{"offset":0.7905,"color":"#fff"},{"offset":0.797,"color":"#fff"},
{"offset":0.8,"color":"#4dd"},{"offset":0.803,"color":"#fff"},{"offset":0.8095,"color":"#fff"},{"offset":0.8125,"color":"#4dd"},{"offset":0.8155,"color":"#fff"},{"offset":0.822,"color":"#fff"},{"offset":0.825,"color":"#4dd"},{"offset":0.828,"color":"#fff"},{"offset":0.8345,"color":"#fff"},{"offset":0.8375,"color":"#4dd"},{"offset":0.8405,"color":"#fff"},{"offset":0.847,"color":"#fff"},{"offset":0.85,"color":"#4dd"},{"offset":0.853,"color":"#fff"},{"offset":0.8595,"color":"#fff"},{"offset":0.8625,"color":"#4dd"},{"offset":0.8655,"color":"#fff"},{"offset":0.872,"color":"#fff"},{"offset":0.875,"color":"#4dd"},{"offset":0.878,"color":"#fff"},{"offset":0.8845,"color":"#fff"},{"offset":0.8875,"color":"#4dd"},{"offset":0.8905,"color":"#fff"},{"offset":0.897,"color":"#fff"},
{"offset":0.9,"color":"#4dd"},{"offset":0.903,"color":"#fff"},{"offset":0.9095,"color":"#fff"},{"offset":0.9125,"color":"#4dd"},{"offset":0.9155,"color":"#fff"},{"offset":0.922,"color":"#fff"},{"offset":0.925,"color":"#4dd"},{"offset":0.928,"color":"#fff"},{"offset":1,"color":"#fff"}]}},
 "encoding":{
  "x":{"field":"d","type":"quantitative","scale":{"domain":[0,4],"nice":false},"axis":{"orient":"top","values":[0,1,2,3,4],"tickSize":-8,"labels":false,"title":null,"domain":true}},
  "x2":{"field":"d2"},
  "y":{"field":"a","type":"quantitative","scale":{"domain":[0,2],"nice":false},"axis":{"orient":"right","values":[0,0.5,1,1.5,2],"tickSize":-8,"labels":false,"title":null,"domain":true}},
  "y2":{"field":"a2"}}},
{"data":{"values":[{"d":0,"d2":4,"a":0.2,"c":"r"},{"d":0,"d2":4,"a":0.62,"c":"g"},{"d":0,"d2":4,"a":1.21,"c":"c"}]},
 "mark":{"type":"rule","strokeWidth":2,"strokeDash":[18,7]},
 "encoding":{
  "x":{"field":"d","type":"quantitative","scale":{"domain":[0,4],"nice":false},"axis":{"orient":"top","values":[0.2,0.4,0.6,0.8,1.2,1.4,1.6,1.8,2.2,2.4,2.6,2.8,3.2,3.4,3.6,3.8],"tickSize":-4,"labels":false,"title":null,"domain":false}},
  "x2":{"field":"d2"},
  "y":{"field":"a","type":"quantitative","scale":{"domain":[0,2],"nice":false},"axis":{"orient":"right","values":[0.1,0.2,0.3,0.4,0.6,0.7,0.8,0.9,1.1,1.2,1.3,1.4,1.6,1.7,1.8,1.9],"tickSize":-4,"labels":false,"title":null,"domain":false}},
  "color":{"field":"c","type":"nominal","scale":{"domain":["r","g","c"],"range":["#f77","#8e6","#8ee"]},"legend":null}}},
{"data":{"name":"gray"},
 "mark":{"type":"errorbar","ticks":{"size":6,"color":"#9a9a9a"},"thickness":2,"color":"#9a9a9a"},
 "encoding":{
  "x":{"field":"d","type":"quantitative","scale":{"domain":[0,4],"nice":false},"axis":null},
  "y":{"field":"a","type":"quantitative","scale":{"domain":[0,2],"nice":false},"axis":null},
  "yError":{"field":"e"}}},
{"data":{"name":"pts"},
 "mark":{"type":"errorbar","ticks":{"size":6,"color":"#111"},"thickness":1,"color":"#111"},
 "encoding":{
  "x":{"field":"d","type":"quantitative","scale":{"domain":[0,4],"nice":false},"axis":null},
  "y":{"field":"a","type":"quantitative","scale":{"domain":[0,2],"nice":false},"axis":null},
  "yError":{"field":"e"}}},
{"data":{"name":"curves"},
 "mark":{"type":"line","interpolate":"monotone","strokeWidth":2,"color":"#56666f"},
 "encoding":{
  "x":{"field":"d","type":"quantitative","scale":{"domain":[0,4],"nice":false},"axis":null},
  "y":{"field":"a","type":"quantitative","scale":{"domain":[0,2],"nice":false},"axis":null},
  "detail":{"field":"c"},
  "strokeDash":{"field":"c","type":"nominal","scale":{"domain":["mid","hi","lo"],"range":[[1,0],[9,5],[9,5]]},"legend":null}}},
{"data":{"name":"pts"},
 "mark":{"type":"circle","size":38,"color":"black","opacity":1},
 "encoding":{
  "x":{"field":"d","type":"quantitative","scale":{"domain":[0,4],"nice":false},"axis":null},
  "y":{"field":"a","type":"quantitative","scale":{"domain":[0,2],"nice":false},"axis":null}}},
{"data":{"values":[{"t":"LRc01","d":0.19,"a":1.69}]},
 "mark":{"type":"text","align":"left","baseline":"alphabetic","font":"DejaVu Serif","fontSize":18,"color":"#333"},
 "encoding":{
  "x":{"field":"d","type":"quantitative","scale":{"domain":[0,4],"nice":false},"axis":null},
  "y":{"field":"a","type":"quantitative","scale":{"domain":[0,2],"nice":false},"axis":null},
  "text":{"field":"t"}}}
],
"resolve":{"axis":{"x":"independent","y":"independent"}}
}
